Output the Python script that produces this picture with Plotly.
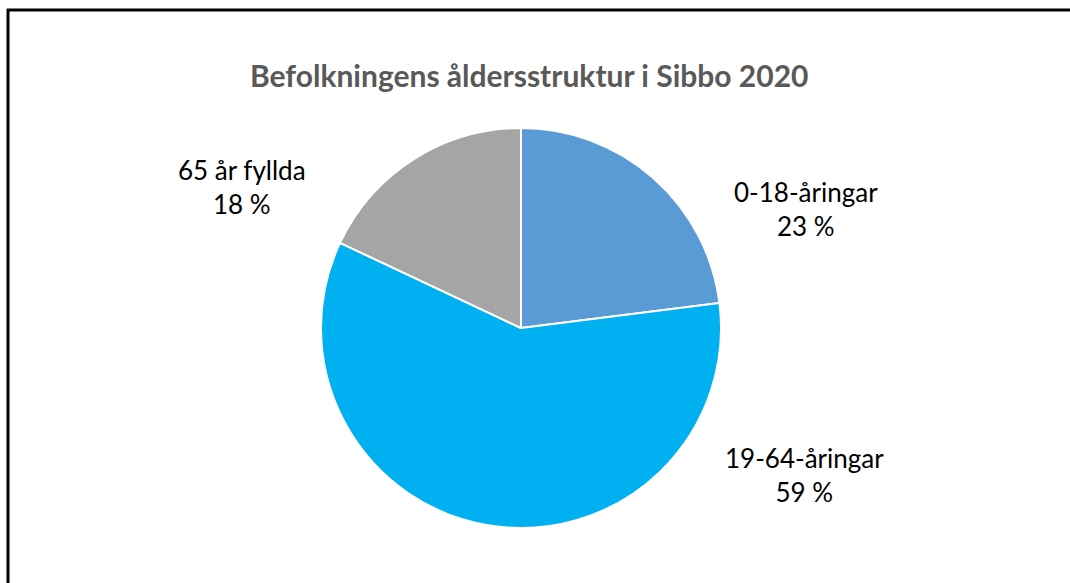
import plotly.graph_objects as go

title = "Befolkningens åldersstruktur i Sibbo 2020"
categories = ["0-18-åringar", "19-64-åringar", "65 år fyllda"]
values = [23, 59, 18]
colors = ["#5B9BD5", "#00B0F0", "#A5A5A5"]

W, H = 1070, 583
FONT = "Lato, 'Open Sans', sans-serif"

fig = go.Figure(go.Pie(
    labels=categories,
    values=values,
    sort=False,
    direction="clockwise",
    rotation=0,
    marker=dict(colors=colors, line=dict(color="white", width=2)),
    textinfo="none",
    hole=0,
    domain=dict(x=[321 / W, 721 / W], y=[1 - 528 / H, 1 - 128 / H]),
    showlegend=False,
))

# label positions (pixel centres of each two-line label)
label_pos = [(806, 209), (804, 475), (242, 187)]
annotations = []
for cat, val, (px, py) in zip(categories, values, label_pos):
    annotations.append(dict(
        x=px / W, y=1 - py / H, xref="paper", yref="paper",
        text=f"{cat}<br>{val} %", showarrow=False,
        font=dict(family=FONT, size=26, color="#000000"),
        align="center", xanchor="center", yanchor="middle",
    ))
annotations.append(dict(
    x=528.5 / W, y=1 - 75 / H, xref="paper", yref="paper",
    text=f"<b>{title}</b>", showarrow=False,
    font=dict(family=FONT, size=30, color="#595959"),
    xanchor="center", yanchor="middle",
))

shapes = [
    dict(type="line", xref="paper", yref="paper", x0=7 / W, x1=1.0,
         y0=1 - 10 / H, y1=1 - 10 / H, line=dict(color="black", width=3)),
    dict(type="line", xref="paper", yref="paper", x0=8 / W, x1=8 / W,
         y0=1 - 9 / H, y1=0, line=dict(color="black", width=3)),
]

fig.update_layout(
    width=W, height=H,
    margin=dict(l=0, r=0, t=0, b=0),
    paper_bgcolor="white", plot_bgcolor="white",
    annotations=annotations, shapes=shapes,
    font=dict(family=FONT),
)
fig.write_html(
    "out.html",
    config={"displayModeBar": False},
    post_script="document.body.style.margin='0';document.body.style.overflow='hidden';",
)
